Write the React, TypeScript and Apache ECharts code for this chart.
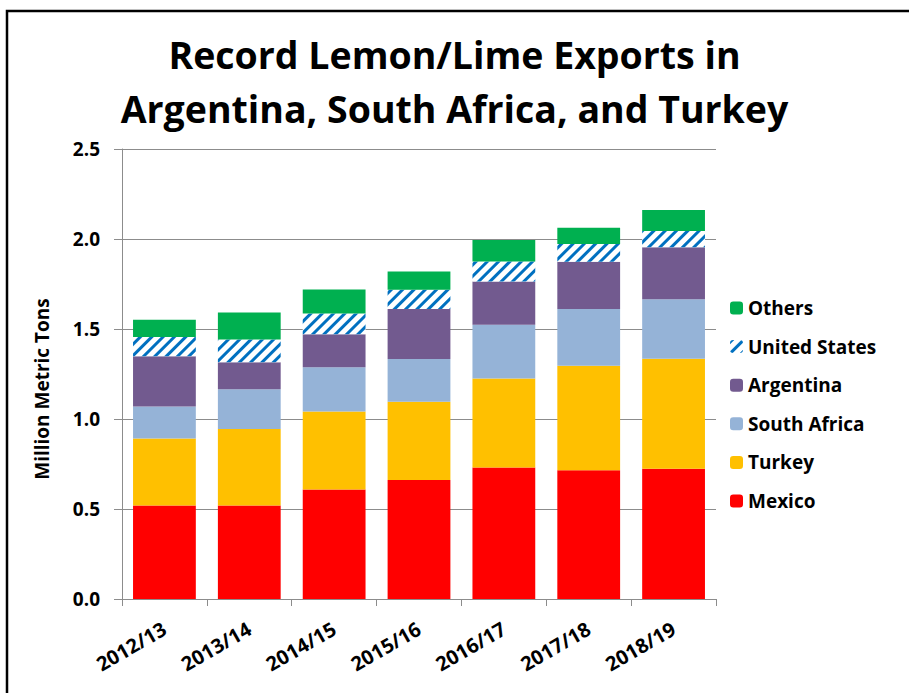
import React, { useEffect, useRef } from "react";
import * as echarts from "echarts";

const categories = ["2012/13", "2013/14", "2014/15", "2015/16", "2016/17", "2017/18", "2018/19"];
const mexico = [0.52, 0.519, 0.609, 0.661, 0.731, 0.715, 0.724];
const turkey = [0.371, 0.426, 0.433, 0.435, 0.494, 0.581, 0.611];
const southAfrica = [0.178, 0.22, 0.246, 0.237, 0.298, 0.315, 0.33];
const argentina = [0.279, 0.15, 0.183, 0.278, 0.241, 0.263, 0.289];
const unitedStates = [0.107, 0.126, 0.115, 0.107, 0.111, 0.098, 0.09];
const others = [0.096, 0.15, 0.133, 0.102, 0.12, 0.091, 0.117];
const yTicks = [0, 0.5, 1.0, 1.5, 2.0, 2.5];
const legendOrder = ["Others", "United States", "Argentina", "South Africa", "Turkey", "Mexico"];
const yAxisTitle = "Million Metric Tons";

const FONT = "'Open Sans', Lato, sans-serif";

export default function App() {
  const ref = useRef<HTMLDivElement>(null);
  useEffect(() => {
    if (!ref.current) return;
    const chart = echarts.init(ref.current, null, { renderer: "svg" });
    const mk = (name: string, data: number[], color: string, extra: any = {}) => ({
      name,
      type: "bar",
      stack: "total",
      data,
      barCategoryGap: "26%",
      itemStyle: { color, ...extra },
      emphasis: { disabled: true },
    });
    chart.setOption({
      animation: false,
      backgroundColor: "#ffffff",
      title: {
        text: "Record Lemon/Lime Exports in\nArgentina, South Africa, and Turkey",
        left: "center",
        top: 22,
        textStyle: { fontFamily: FONT, fontWeight: "bold", fontSize: 37.5, lineHeight: 54, color: "#000" },
      },
      graphic: [
        {
          type: "rect",
          shape: { x: 7, y: 11, width: 940, height: 720 },
          style: { fill: "none", stroke: "#000", lineWidth: 2.5 },
          silent: true,
        },
        {
          type: "text",
          x: 42,
          y: 389,
          rotation: Math.PI / 2,
          style: {
            text: yAxisTitle,
            fontFamily: FONT,
            fontWeight: "bold",
            fontSize: 19,
            fill: "#000",
            align: "center",
            verticalAlign: "middle",
          },
          silent: true,
        },
      ],
      legend: {
        orient: "vertical",
        left: 725,
        top: 293,
        itemWidth: 13,
        itemHeight: 13,
        itemGap: 18.6,
        data: legendOrder,
        textStyle: { fontFamily: FONT, fontWeight: "bold", fontSize: 19, color: "#000", lineHeight: 20 },
      },
      grid: { left: 122, right: 193, top: 149, bottom: 94 },
      xAxis: {
        type: "category",
        data: categories,
        axisLine: { lineStyle: { color: "#8c8c8c", width: 1 } },
        axisTick: { show: true, length: 7, lineStyle: { color: "#8c8c8c" } },
        axisLabel: {
          rotate: 30,
          margin: 28,
          fontFamily: FONT,
          fontWeight: "bold",
          fontSize: 20,
          color: "#000",
        },
      },
      yAxis: {
        type: "value",
        min: 0,
        max: 2.5,
        interval: 0.5,
        axisLine: { show: true, lineStyle: { color: "#8c8c8c", width: 1 } },
        axisTick: { show: true, length: 8, lineStyle: { color: "#8c8c8c" } },
        splitLine: { lineStyle: { color: "#8c8c8c", width: 1 } },
        axisLabel: {
          margin: 22,
          fontFamily: FONT,
          fontWeight: "bold",
          fontSize: 19,
          color: "#000",
          formatter: (v: number) => (yTicks.includes(v) ? v.toFixed(1) : ""),
        },
      },
      series: [
        mk("Mexico", mexico, "#FF0000"),
        mk("Turkey", turkey, "#FFC000"),
        mk("South Africa", southAfrica, "#95B3D7"),
        mk("Argentina", argentina, "#725A8F"),
        mk("United States", unitedStates, "#ffffff", {
          decal: {
            symbol: "rect",
            symbolSize: 1,
            color: "#0070C0",
            dashArrayX: [1, 0],
            dashArrayY: [3, 5],
            rotation: -Math.PI / 4,
          },
        }),
        mk("Others", others, "#00B050"),
      ],
    });
    return () => chart.dispose();
  }, []);
  return <div ref={ref} style={{ position: "fixed", left: 0, top: 0, width: 909, height: 693 }} />;
}
